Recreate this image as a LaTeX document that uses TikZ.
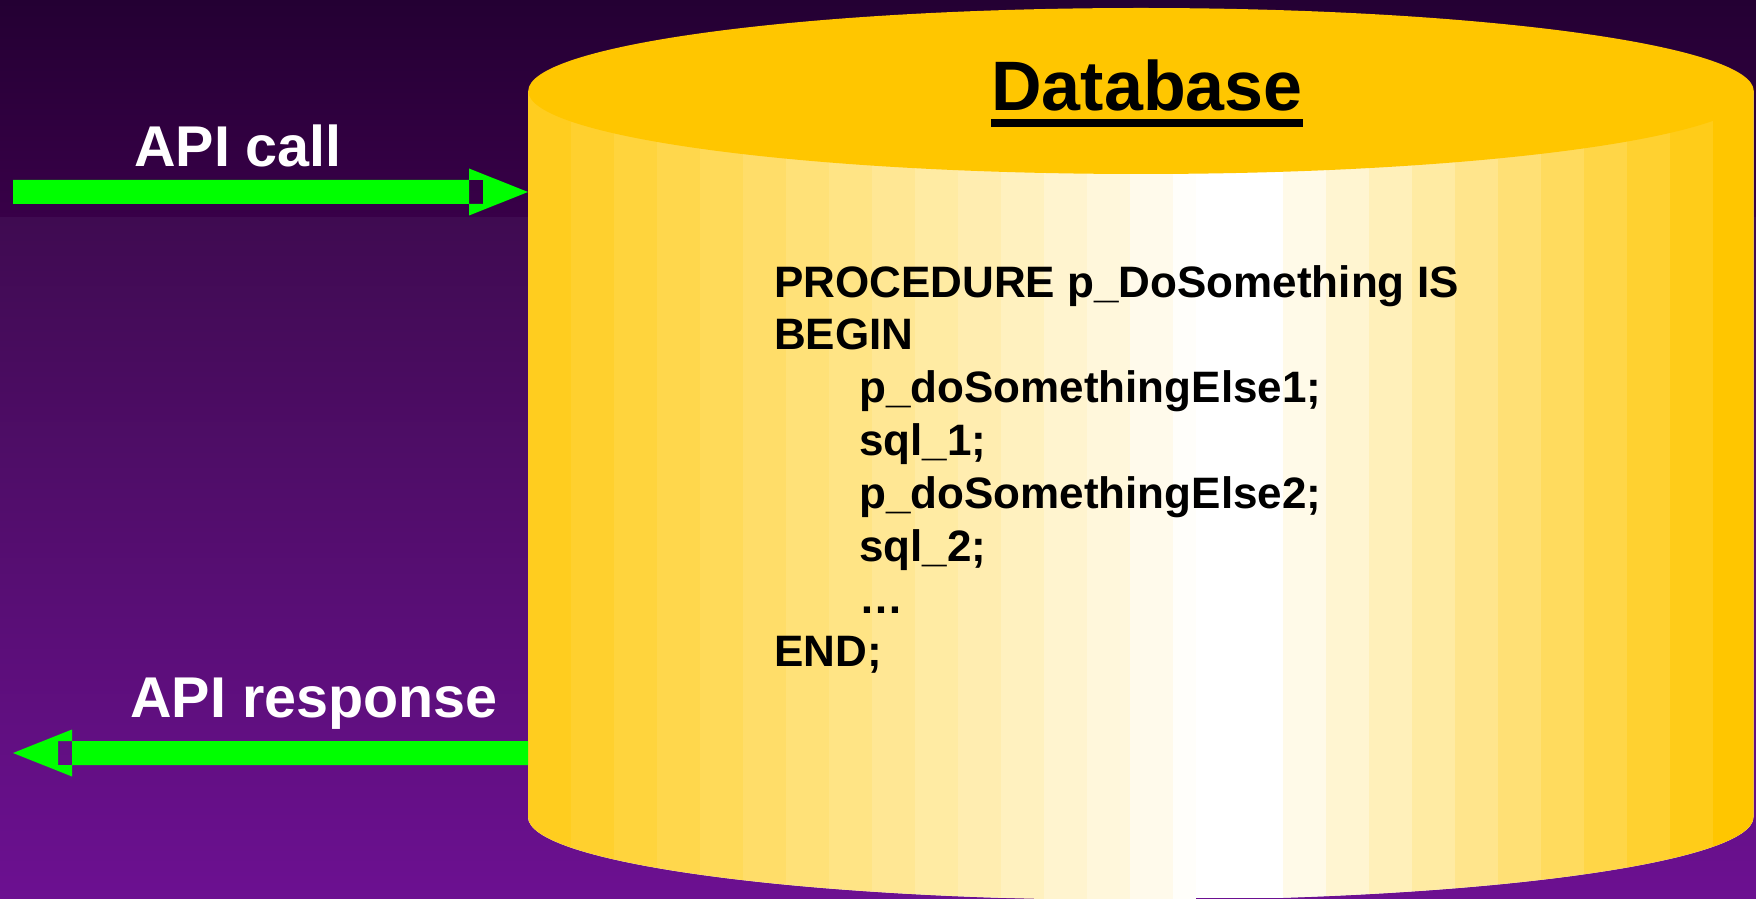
\documentclass[tikz,border=0pt]{standalone}
\usepackage{fontspec}
\setmainfont{Liberation Sans}
\usetikzlibrary{calc}
\definecolor{bgtop}{RGB}{36,0,51}
\definecolor{bgband}{RGB}{56,0,72}
\definecolor{bgmid}{RGB}{63,11,81}
\definecolor{bgbottom}{RGB}{108,16,145}
\definecolor{dbyellow}{RGB}{255,198,0}
\definecolor{apigreen}{RGB}{0,255,0}
\tikzset{
  apilabel/.style={text=white,font=\fontsize{57.5}{60}\selectfont\bfseries,inner sep=0pt,anchor=base},
  titletext/.style={font=\fontsize{70}{75}\selectfont\bfseries,inner sep=0pt,anchor=base},
  codetext/.style={font=\fontsize{44}{52.8}\selectfont\bfseries,align=left,inner sep=0pt,anchor=base west},
  % thick arrow; shaft and head overlap, the overlap is left open
  fatarrow/.style={fill=apigreen,even odd rule,to path={
    let \p1=(\tikztostart), \p2=(\tikztotarget), \n1={sign(\x2-\x1)} in
    (\x1,\y1-12) rectangle (\x2-45*\n1,\y1+12)
    (\x2-59*\n1,\y1-23.5) -- (\x2,\y2) -- (\x2-59*\n1,\y1+23.5) -- cycle}}
}
\begin{document}
\begin{tikzpicture}[x=1pt,y=1pt]
  \useasboundingbox (0,0) rectangle (1756,898);
  % background
  \shade[top color=bgtop,bottom color=bgband] (0,680) rectangle (1756,898);
  \shade[top color=bgmid,bottom color=bgbottom] (0,0) rectangle (1756,680);

  % database cylinder, banded body
  \begin{scope}
    \clip (528,807) -- (528,81) arc[start angle=180,end angle=360,x radius=612.75,y radius=83] -- (1753.5,807) -- cycle;
    \fill[white] (528,0) rectangle (1756,898);
    \foreach \i in {0,...,15} {
      \pgfmathtruncatemacro\mixpct{88*(1-\i/15.5)}
      \fill[dbyellow!\mixpct!white] ({528+43*\i},-10) rectangle ({min(528+43*(\i+1),1196)},820);
    }
    \foreach \j in {0,...,10} {
      \pgfmathtruncatemacro\mixpct{100*(\j+1)/11}
      \fill[dbyellow!\mixpct!white] ({1283+43*\j},-10) rectangle ({1283+43*(\j+1)},820);
    }
  \end{scope}
  \fill[dbyellow] (1141,807) ellipse[x radius=612.75,y radius=83];

  \node[titletext] (dbname) at (1147,787.3) {Database};
  \fill ([yshift=-8]dbname.base west) rectangle ([yshift=-16]dbname.base east);

  % base of this node is the baseline of its last line
  \node[codetext] (proc) at (774,231.3) {PROCEDURE p\_DoSomething IS\\
    BEGIN\\
    \hspace*{85pt}p\_doSomethingElse1;\\
    \hspace*{85pt}sql\_1;\\
    \hspace*{85pt}p\_doSomethingElse2;\\
    \hspace*{85pt}sql\_2;\\
    \hspace*{85pt}…\\
    END;};

  % call and response
  \coordinate (callstart) at (13,706);
  \coordinate (callend) at (528,706);
  \coordinate (respstart) at (528,145);
  \coordinate (respend) at (13,145);
  \path[fatarrow] (callstart) to (callend);
  \path[fatarrow] (respstart) to (respend);
  \node[apilabel] (calltxt) at (238,731.3) {API call};
  \node[apilabel] (resptxt) at (314,180.7) {API response};
\end{tikzpicture}
\end{document}
